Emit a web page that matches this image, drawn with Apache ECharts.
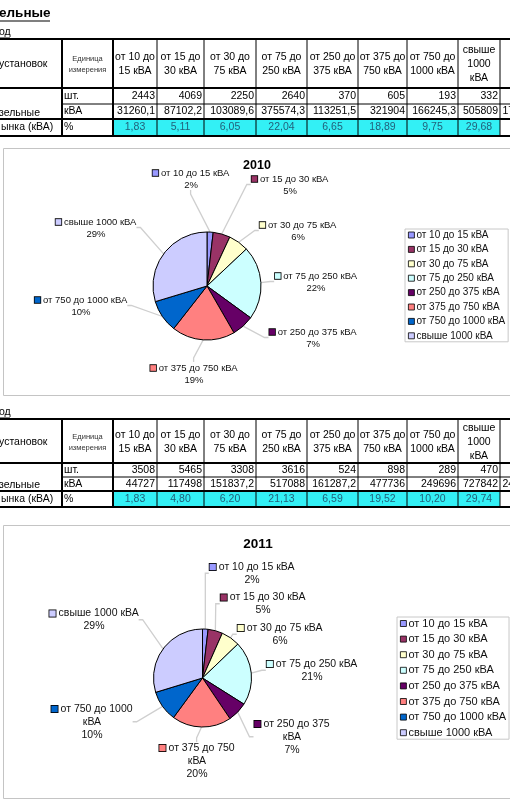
<!DOCTYPE html>
<html>
<head>
<meta charset="utf-8">
<script src="https://cdn.jsdelivr.net/npm/echarts@6/dist/echarts.min.js"></script>
<style>
html,body{margin:0;padding:0;background:#fff;}
#main{width:510px;height:801px;}
</style>
</head>
<body>
<div id="main"></div>
<script>
// ---------- DATA ----------
const categories = ['от 10 до 15 кВА','от 15 до 30 кВА','от 30 до 75 кВА','от 75 до 250 кВА','от 250 до 375 кВА','от 375 до 750 кВА','от 750 до 1000 кВА','свыше 1000 кВА'];
const colHeaders = ['от 10 до\n15 кВА','от 15 до\n30 кВА','от 30 до\n75 кВА','от 75 до\n250 кВА','от 250 до\n375 кВА','от 375 до\n750 кВА','от 750 до\n1000 кВА','свыше\n1000\nкВА'];
const units2010 = [2443,4069,2250,2640,370,605,193,332];
const kva2010 = [31260.1,87102.2,103089.6,375574.3,113251.5,321904,166245.3,505809];
const share2010 = [1.83,5.11,6.05,22.04,6.65,18.89,9.75,29.68];
const pieLabels2010 = [2,5,6,22,7,19,10,29];
const units2011 = [3508,5465,3308,3616,524,898,289,470];
const kva2011 = [44727,117498,151837.2,517088,161287.2,477736,249696,727842];
const share2011 = [1.83,4.80,6.20,21.13,6.59,19.52,10.20,29.74];
const pieLabels2011 = [2,5,6,21,7,20,10,29];
const rowUnits = ['шт.','кВА','%'];

// ---------- STYLE / LAYOUT ----------
const colors = ['#9999FF','#993366','#FFFFCC','#CCFFFF','#660066','#FF8080','#0066CC','#CCCCFF'];
const TF = "'Liberation Sans',Arial,sans-serif";
const CF = "'Liberation Sans',Arial,sans-serif";
const colX = [62,113,157,204,256,307,358,407,458,500];
const table1Rows = [39,88,104,119,136];
const table2Rows = [419,463,477,491,507];

const pie1 = {cx:207, cy:286, r:54, font:9.5, lh:12,
  off:[[-16,-107],[83,-101],[91,-55],[109,-4],[106,52],[-13,88],[-126,20],[-111,-58]], wrap:[]};
const pie2 = {cx:202.5, cy:678, r:49, font:10.5, lh:13,
  off:[[49.5,-104.5],[60.5,-74],[77.5,-43.5],[109.5,-7.5],[89.5,59],[-5.5,83],[-110.5,44],[-108.5,-58]], wrap:[4,5,6]};

function fmt(v){ return String(v).replace('.', ','); }

function txt(x,y,s,opt){
  opt = opt||{};
  return {type:'text', x:x, y:y, silent:true, z:10, style:Object.assign({
    text:s, fill:'#000', fontSize:10.5, fontFamily:TF, align:'left', verticalAlign:'middle'}, opt)};
}
function hline(x1,x2,y,w){ return {type:'line', silent:true, z:9, shape:{x1:x1,y1:y,x2:x2,y2:y}, style:{stroke:'#000', lineWidth:w}}; }
function vline(x,y1,y2,w){ return {type:'line', silent:true, z:9, shape:{x1:x,y1:y1,x2:x,y2:y2}, style:{stroke:'#000', lineWidth:w}}; }

function tableGraphics(R, units, kva, share){
  const g = [];
  const sum = kva.reduce((a,b)=>a+b,0);
  g.push({type:'rect', silent:true, z:8, shape:{x:colX[1], y:R[3], width:colX[9]-colX[1], height:R[4]-R[3]}, style:{fill:'#33F0F5'}});
  g.push(hline(0,510,R[0],2));
  g.push(hline(0,510,R[1],2));
  g.push(hline(colX[0],510,R[2],1));
  g.push(hline(0,510,R[3],2));
  g.push(hline(0,510,R[4],2));
  colX.forEach((x,i)=>{ g.push(vline(x,R[0],R[4], i<2?2:1)); });
  g.push(txt(-1,(R[0]+R[1])/2+1,'установок'));
  g.push(txt(-1,R[3]-6,'зельные'));
  g.push(txt(1,(R[3]+R[4])/2,'ынка (кВА)'));
  g.push(txt((colX[0]+colX[1])/2,(R[0]+R[1])/2+1,'Единица\nизмерения',{fontSize:7.5,align:'center',lineHeight:11,fill:'#333'}));
  rowUnits.forEach((u,i)=>{ g.push(txt(colX[0]+2,(R[i+1]+R[i+2])/2,u)); });
  const hc = (R[0]+R[1])/2+1;
  colHeaders.forEach((h,i)=>{
    g.push(txt((colX[i+1]+colX[i+2])/2,hc,h,{align:'center',lineHeight:14}));
  });
  units.forEach((v,i)=>{ g.push(txt(colX[i+2]-2,(R[1]+R[2])/2,fmt(v),{align:'right'})); });
  kva.forEach((v,i)=>{ g.push(txt(colX[i+2]-2,(R[2]+R[3])/2,fmt(v),{align:'right'})); });
  share.forEach((v,i)=>{ g.push(txt((colX[i+1]+colX[i+2])/2,(R[3]+R[4])/2,v.toFixed(2).replace('.',','),{align:'center',fill:'#22607a'})); });
  // total column (mostly outside the view)
  g.push(txt(colX[9]+2.5,(R[2]+R[3])/2,fmt(Math.round(sum*10)/10)));
  return g;
}

const graphics = [].concat(
  [
    txt(-1,13,'ельные',{fontSize:13.5,fontWeight:'bold'}),
    hline(0,50,21,1.2),
    txt(-1,32,'од',{fontSize:10.5}),
    hline(0,10,38,1),
    txt(-1,412,'од',{fontSize:10.5}),
    hline(0,10,418,1),
    {type:'rect', silent:true, z:1, shape:{x:3.5,y:148.5,width:540,height:247}, style:{fill:'none',stroke:'#c4c4c4',lineWidth:1}},
    {type:'rect', silent:true, z:1, shape:{x:3.5,y:525.5,width:540,height:273}, style:{fill:'none',stroke:'#c4c4c4',lineWidth:1}},
    txt(257,166,'2010',{fontFamily:CF,fontSize:12.5,fontWeight:'bold',align:'center'}),
    txt(258,544,'2011',{fontFamily:CF,fontSize:13.5,fontWeight:'bold',align:'center'})
  ],
  tableGraphics(table1Rows, units2010, kva2010, share2010),
  tableGraphics(table2Rows, units2011, kva2011, share2011)
);

function richFor(P){
  const r = {t:{fontSize:P.font, fontFamily:CF, color:'#111', lineHeight:P.lh}};
  colors.forEach((c,i)=>{ r['s'+i] = {width:P.font*0.6, height:P.font*0.6, backgroundColor:c, borderColor:'#000', borderWidth:0.8}; });
  return r;
}

function pieSeries(P, kva, pct){
  return {
    type:'pie',
    center:[P.cx,P.cy],
    radius:P.r,
    startAngle:90,
    clockwise:true,
    avoidLabelOverlap:false,
    silent:true,
    animation:false,
    data: categories.map((n,i)=>({name:n, value:kva[i]})),
    itemStyle:{borderColor:'#000', borderWidth:1},
    emphasis:{disabled:true},
    label:{
      show:true, position:'outside', align:'center',
      formatter:function(p){
        const name = p.name;
        const i = p.dataIndex;
        if (P.wrap.indexOf(i) >= 0) {
          const k = name.lastIndexOf(' ');
          return '{s'+i+'|}{t| '+name.slice(0,k)+'}\n{t|'+name.slice(k+1)+'}\n{t|'+pct[i]+'%}';
        }
        return '{s'+i+'|}{t| '+name+'}\n{t|'+pct[i]+'%}';
      },
      rich: richFor(P)
    },
    labelLine:{show:true, length:10, length2:4, lineStyle:{color:'#cfcfcf', width:1.3}},
    labelLayout:function(params){
      const o = P.off[params.dataIndex];
      return {x:P.cx+o[0], y:P.cy+o[1], align:'center', verticalAlign:'middle'};
    }
  };
}

function legendFor(left, top, font, lh, gap, padL){
  return {
    orient:'vertical', left:left, top:top,
    data: categories,
    icon:'rect', itemWidth:6, itemHeight:6, itemGap:gap,
    padding:[0,3,0,padL],
    backgroundColor:'#fff',
    borderColor:'#c8c8c8', borderWidth:1,
    selectedMode:false,
    itemStyle:{borderColor:'#000', borderWidth:0.8},
    textStyle:{fontSize:font, fontFamily:CF, color:'#111', lineHeight:lh, padding:[0,0,0,-3]}
  };
}

const chart = echarts.init(document.getElementById('main'), null, {renderer:'canvas'});
chart.setOption({
  animation:false,
  backgroundColor:'#fff',
  color: colors,
  graphic: graphics,
  legend:[
    legendFor(405, 229, 10, 12, 2.4, 3),
    legendFor(397, 617, 11, 13, 2.6, 3)
  ],
  series:[
    pieSeries(pie1, kva2010, pieLabels2010),
    pieSeries(pie2, kva2011, pieLabels2011)
  ]
});
</script>
</body>
</html>
